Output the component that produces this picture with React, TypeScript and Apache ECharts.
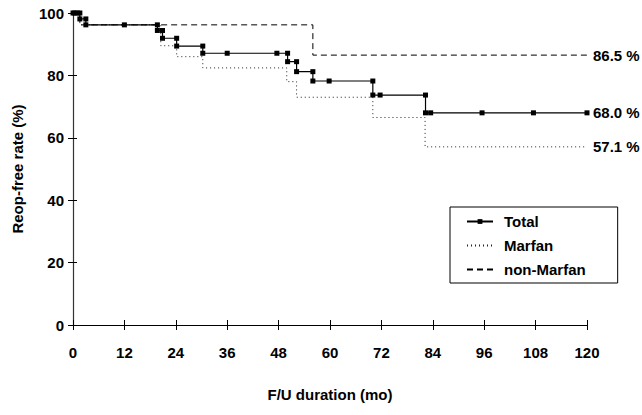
import React, { useEffect, useRef } from "react";
import * as echarts from "echarts";

// ---- data ----
const xTicks = [0, 12, 24, 36, 48, 60, 72, 84, 96, 108, 120];
const yTicks = [0, 20, 40, 60, 80, 100];

const totalEventTimes = [1.6, 3, 19.7, 20.9, 24.2, 30.3, 50.1, 52.2, 56, 70, 82.3];
const totalEventValues = [98.1, 96.2, 94.4, 91.9, 89.4, 87.1, 84.4, 81.2, 78.2, 73.7, 68.0];
const totalCensored = [0.4, 1, 12, 36, 47.6, 59.8, 71.7, 83.5, 95.5, 107.5, 120];

const marfanEventTimes = [1.6, 20.5, 24.2, 30.3, 49.9, 52.2, 70, 82.2];
const marfanEventValues = [96.2, 89.5, 86.0, 82.4, 78.0, 73.0, 66.5, 57.1];

const nonMarfanEventTimes = [1.6, 56];
const nonMarfanEventValues = [96.2, 86.5];

const endLabels = { total: "68.0 %", marfan: "57.1 %", nonMarfan: "86.5 %" };

function steps(times: number[], values: number[], censored: number[], end: number) {
  const pts: number[][] = [[0, 100]];
  const evs: { t: number; v?: number }[] = [];
  times.forEach((t, i) => evs.push({ t, v: values[i] }));
  censored.forEach((t) => evs.push({ t }));
  evs.sort((a, b) => a.t - b.t);
  let cur = 100;
  for (const e of evs) {
    if (e.v !== undefined) {
      pts.push([e.t, cur]);
      pts.push([e.t, e.v]);
      cur = e.v;
    } else {
      pts.push([e.t, cur]);
    }
  }
  if (pts[pts.length - 1][0] < end) pts.push([end, cur]);
  return pts;
}

const FONT = "'Liberation Sans', Arial, Helvetica, sans-serif";

export default function App() {
  const ref = useRef<HTMLDivElement>(null);
  useEffect(() => {
    if (!ref.current) return;
    const chart = echarts.init(ref.current, undefined, { renderer: "svg" });
    const labelStyle = { fontFamily: FONT, fontWeight: "bold" as const, fontSize: 15, color: "#000" };
    const endLabel = (txt: string) => ({
      show: true,
      formatter: txt,
      distance: 6,
      ...labelStyle,
    });
    chart.setOption({
      animation: false,
      backgroundColor: "#fff",
      textStyle: { fontFamily: FONT },
      grid: { left: 73, right: 55, top: 13, bottom: 90, containLabel: false },
      legend: {
        orient: "vertical",
        left: 450,
        top: 207,
        data: [
          { name: "Total" },
          { name: "Marfan", itemStyle: { opacity: 0 } },
          { name: "non-Marfan", itemStyle: { opacity: 0 } },
        ],
        itemWidth: 26,
        itemHeight: 6,
        itemGap: 9,
        borderColor: "#000",
        borderWidth: 1,
        borderRadius: 0,
        padding: [7, 32, 6, 16],
        textStyle: { ...labelStyle, padding: [0, 0, 0, 6] },
      },
      xAxis: [
        {
          type: "value",
          min: 0,
          max: 120,
          interval: 12,
          name: "F/U duration (mo)",
          nameLocation: "middle",
          nameGap: 62,
          nameTextStyle: labelStyle,
          axisLine: { show: true, lineStyle: { color: "#000", width: 1 } },
          axisTick: { show: true, length: 5, lineStyle: { color: "#000" } },
          axisLabel: { ...labelStyle, margin: 20, formatter: (v: number) => (xTicks.includes(v) ? String(v) : "") },
          splitLine: { show: false },
        },
        {
          type: "value",
          min: 0,
          max: 120,
          interval: 12,
          position: "bottom",
          axisLine: { show: false },
          axisTick: { show: true, inside: true, length: 5, lineStyle: { color: "#000" } },
          axisLabel: { show: false },
          splitLine: { show: false },
        },
      ],
      yAxis: [
        {
          type: "value",
          min: 0,
          max: 100,
          interval: 20,
          name: "Reop-free rate (%)",
          nameLocation: "middle",
          nameGap: 48,
          nameRotate: 90,
          nameTextStyle: labelStyle,
          axisLine: { show: true, lineStyle: { color: "#333", width: 1.2 } },
          axisTick: { show: true, length: 5, lineStyle: { color: "#000" } },
          axisLabel: { ...labelStyle, margin: 9, formatter: (v: number) => (yTicks.includes(v) ? String(v) : "") },
          splitLine: { show: false },
        },
        {
          type: "value",
          min: 0,
          max: 100,
          interval: 20,
          position: "left",
          axisLine: { show: false },
          axisTick: { show: true, inside: true, length: 4, lineStyle: { color: "#000" } },
          axisLabel: { show: false },
          splitLine: { show: false },
        },
      ],
      series: [
        {
          name: "non-Marfan",
          type: "line",
          xAxisIndex: 0,
          yAxisIndex: 0,
          data: steps(nonMarfanEventTimes, nonMarfanEventValues, [], 120),
          symbol: "none",
          lineStyle: { color: "#000", width: 1, type: [6, 4] },
          itemStyle: { color: "#000" },
          endLabel: endLabel(endLabels.nonMarfan),
          z: 2,
        },
        {
          name: "Marfan",
          type: "line",
          xAxisIndex: 0,
          yAxisIndex: 0,
          data: steps(marfanEventTimes, marfanEventValues, [], 120),
          symbol: "none",
          lineStyle: { color: "#222", width: 1, type: [1, 3] },
          itemStyle: { color: "#000" },
          endLabel: endLabel(endLabels.marfan),
          z: 2,
        },
        {
          name: "Total",
          type: "line",
          xAxisIndex: 0,
          yAxisIndex: 0,
          data: steps(totalEventTimes, totalEventValues, totalCensored, 120),
          symbol: "rect",
          symbolSize: 5,
          showSymbol: true,
          lineStyle: { color: "#000", width: 1.2 },
          itemStyle: { color: "#000" },
          endLabel: endLabel(endLabels.total),
          z: 3,
        },
      ],
    });
    return () => chart.dispose();
  }, []);
  return (
    <div
      ref={ref}
      style={{ position: "fixed", left: 0, top: 0, width: 642, height: 415, background: "#fff" }}
    />
  );
}
